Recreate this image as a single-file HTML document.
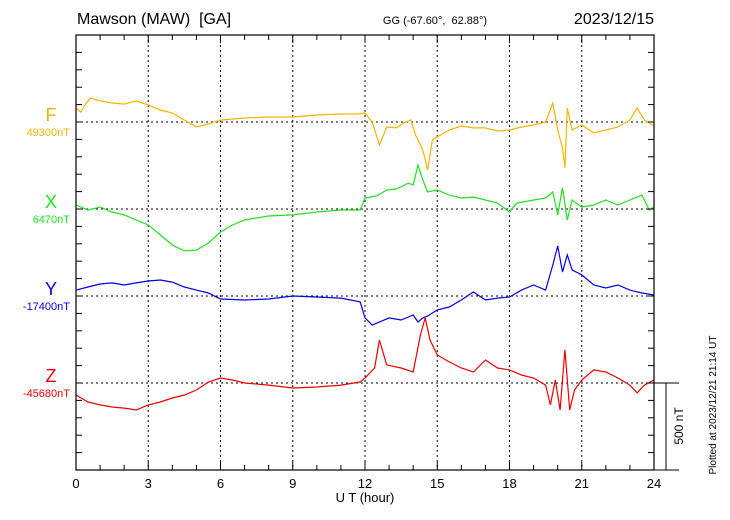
<!DOCTYPE html>
<html><head><meta charset="utf-8"><style>
body{margin:0;background:#fff;}
svg{display:block;font-family:"Liberation Sans",sans-serif;}
text{white-space:pre;}
</style></head><body>
<svg id="chart" width="730" height="520" xmlns="http://www.w3.org/2000/svg">
<text x="77" y="24" font-size="16" xml:space="preserve">Mawson (MAW)  [GA]</text>
<text x="435" y="24" font-size="11" text-anchor="middle" xml:space="preserve">GG (-67.60°,  62.88°)</text>
<text x="654" y="24" font-size="16" text-anchor="end">2023/12/15</text>
<text x="365" y="502" font-size="13" text-anchor="middle">U T (hour)</text>
<text transform="translate(716,405) rotate(-90)" font-size="10" text-anchor="middle">Plotted at 2023/12/21 21:14 UT</text>
<text transform="translate(683,426) rotate(-90)" font-size="12" text-anchor="middle">500 nT</text>
<g id="grid"></g><g id="series"></g><g id="frame"></g>
</svg>
<script>
const xTicks=[0,3,6,9,12,15,18,21,24];
const fT=[0,0.2,0.4,0.6,1,1.5,2,2.5,3,3.5,4,4.5,5,5.5,6,7,8,9,10,11,11.7,12,12.3,12.6,12.9,13.3,13.6,13.9,14.1,14.4,14.6,14.8,15.2,15.5,16,16.5,17,17.5,18,18.5,19,19.5,19.8,20,20.2,20.3,20.4,20.6,21,21.5,22,22.5,23,23.3,23.6,24];
const fV=[80,57,103,138,121,109,103,121,98,69,52,11,-29,-11,11,23,29,29,40,46,46,52,0,-132,-29,-34,-6,11,-75,-161,-276,-103,-69,-46,-23,-34,-34,-52,-46,-29,-17,0,109,-46,-150,-264,80,-46,-17,-63,-46,-29,11,80,11,-23];
const xT=[0,0.5,1,1.5,2,2.5,3,3.5,4,4.5,5,5.5,6,6.5,7,8,9,10,11,11.8,12,12.5,12.9,13.3,13.8,14,14.2,14.4,14.6,15,15.5,16,16.5,17,17.5,18,18.3,19,19.5,19.8,20,20.2,20.4,20.6,21,21.5,22,22.5,23,23.5,23.8,24];
const xV=[23,-6,11,-17,-34,-63,-92,-149,-207,-241,-236,-195,-132,-92,-63,-40,-34,-17,-6,-6,63,75,109,115,149,138,253,167,98,109,80,63,69,52,34,-17,34,52,63,98,-34,121,-63,52,11,23,52,23,52,80,-6,11];
const yT=[0,0.5,1,1.5,2,2.5,3,3.5,4,4.5,5,5.5,6,7,8,9,10,11,11.8,12,12.3,12.6,13,13.5,14,14.2,14.4,14.6,15,15.5,16,16.5,17,17.5,18,18.5,19,19.5,19.8,20,20.2,20.4,20.6,21,21.5,22,22.5,23,23.5,24];
const yV=[34,52,69,75,63,75,86,92,80,52,34,17,-17,-23,-17,0,-6,-12,-34,-126,-167,-150,-126,-138,-109,-150,-126,-115,-80,-63,-23,23,-23,-12,-6,34,63,34,178,288,138,236,150,121,63,46,63,34,17,6];
const zT=[0,0.5,1,1.5,2,2.5,3,3.5,4,4.5,5,5.5,6,6.5,7,8,9,10,11,11.8,12,12.4,12.6,12.9,13.5,14,14.3,14.5,14.7,15,15.5,16,16.5,17,17.5,18,18.5,19,19.5,19.7,19.9,20.1,20.3,20.5,20.7,21,21.5,22,22.5,23,23.3,23.6,24];
const zV=[-69,-109,-126,-138,-144,-155,-126,-109,-86,-69,-40,6,29,17,0,-12,-29,-23,-12,6,29,86,247,104,86,63,276,374,247,161,121,86,63,132,86,75,46,29,-12,-126,17,-155,190,-155,-40,17,75,63,29,-12,-57,-12,17];
const compNames=['F','X','Y','Z'];
const baseLabels=['49300nT','6470nT','-17400nT','-45680nT'];
const colors=['#f8b400','#22e022','#0000ee','#ee0000'];
const L=76,R=654,T=35,B=470,PX=0.174;
const xs=h=>L+(R-L)*h/24;
const bases=[122,209,296,383];
const ys=(i,v)=>bases[i]-v*PX;
const NS='http://www.w3.org/2000/svg';
function mk(tag,attrs,parent){const e=document.createElementNS(NS,tag);for(const k in attrs)e.setAttribute(k,attrs[k]);parent.appendChild(e);return e;}
const grid=document.getElementById('grid'),ser=document.getElementById('series'),fr=document.getElementById('frame'),svg=document.getElementById('chart');
xTicks.forEach(h=>{if(h>0&&h<24){const g=mk('line',{x1:xs(h),x2:xs(h),y1:T,y2:B,stroke:'#000','stroke-width':1,'stroke-dasharray':'2,3'},grid);

}
const t=mk('text',{x:xs(h),y:B+18,'font-size':13,'text-anchor':'middle'},fr);t.textContent=h;

});
for(let h=1;h<24;h++){mk('line',{x1:xs(h),x2:xs(h),y1:T,y2:T+(h%3?5:8),stroke:'#000'},fr);mk('line',{x1:xs(h),x2:xs(h),y1:B,y2:B-(h%3?5:8),stroke:'#000'},fr);}
for(let k=1;k<25;k++){const y=T+k*17.4;mk('line',{x1:L,x2:L+6,y1:y,y2:y,stroke:'#000'},fr);mk('line',{x1:R,x2:R-6,y1:y,y2:y,stroke:'#000'},fr);}
const all=[[fT,fV],[xT,xV],[yT,yV],[zT,zV]];
all.forEach((s,i)=>{
const bl=mk('line',{x1:L,x2:R,y1:bases[i],y2:bases[i],stroke:'#000','stroke-dasharray':'2,3'},grid);


const pts=s[0].map((t,j)=>xs(t).toFixed(1)+','+ys(i,s[1][j]).toFixed(1)).join(' ');
const p=mk('polyline',{points:pts,fill:'none',stroke:colors[i],'stroke-width':1.2},ser);


const lt=mk('text',{x:51,y:bases[i]-1,'font-size':18,fill:colors[i],'text-anchor':'middle'},svg);lt.textContent=compNames[i];


const bt=mk('text',{x:70,y:bases[i]+14,'font-size':11,fill:colors[i],'text-anchor':'end'},svg);bt.textContent=baseLabels[i];


});
const f=mk('rect',{x:L,y:T,width:R-L,height:B-T,fill:'none',stroke:'#000','stroke-width':1.2},fr);


mk('line',{x1:R,x2:679,y1:383,y2:383,stroke:'#000'},fr);
mk('line',{x1:R,x2:679,y1:B,y2:B,stroke:'#000'},fr);
const sb=mk('line',{x1:666,x2:666,y1:383,y2:B,stroke:'#000'},fr);


</script>
</body></html>
